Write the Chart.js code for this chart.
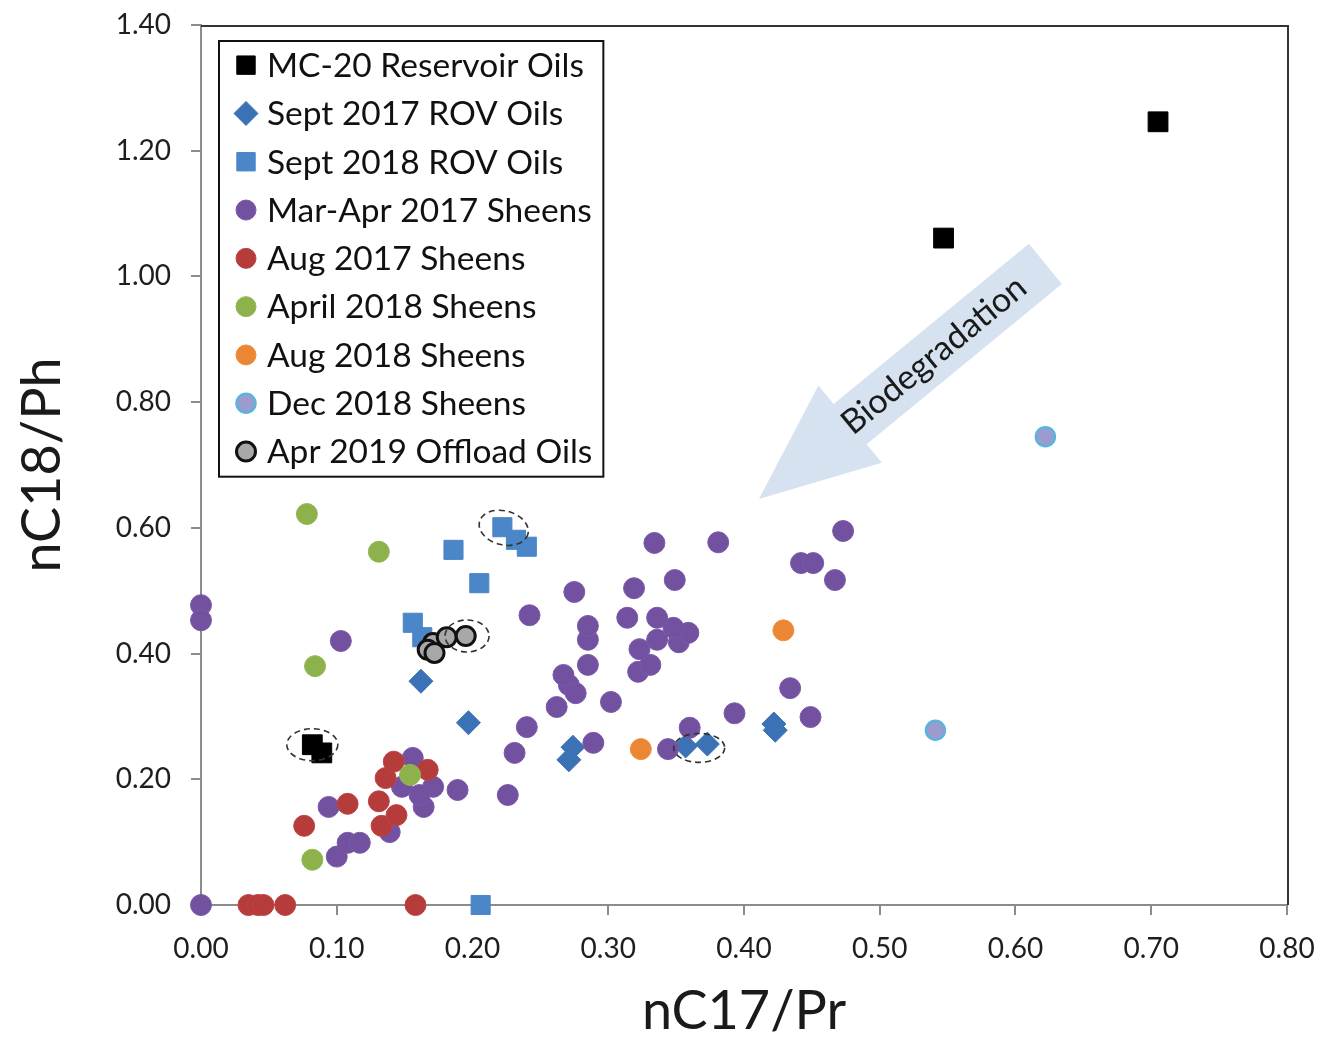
<!DOCTYPE html>
<html>
<head>
<meta charset="utf-8">
<script src="https://cdn.jsdelivr.net/npm/chart.js@4.4.1/dist/chart.umd.min.js"></script>
<style>
  html, body { margin: 0; padding: 0; background: #fff; }
</style>
</head>
<body>
<canvas id="ratioChart" width="1319" height="1042"></canvas>
<script>
// [nC17/Pr, nC18/Ph] pairs
const reservoirOils = [[0.705, 1.246], [0.547, 1.061], [0.082, 0.255], [0.089, 0.242]];
const rov2017 = [[0.162, 0.356], [0.197, 0.290], [0.274, 0.251], [0.271, 0.231],
  [0.357, 0.253], [0.373, 0.256], [0.422, 0.288], [0.423, 0.278]];
const rov2018 = [[0.222, 0.601], [0.232, 0.581], [0.240, 0.570], [0.186, 0.565],
  [0.205, 0.512], [0.156, 0.449], [0.163, 0.426], [0.206, 0.000]];
const sheensMarApr2017 = [[0.000, 0.477], [0.000, 0.453], [0.103, 0.420], [0.000, 0.000],
  [0.094, 0.156], [0.100, 0.077], [0.108, 0.099], [0.117, 0.099], [0.139, 0.116],
  [0.156, 0.234], [0.148, 0.188], [0.164, 0.156], [0.171, 0.188], [0.161, 0.175],
  [0.189, 0.183], [0.226, 0.175], [0.231, 0.242], [0.240, 0.283], [0.289, 0.258],
  [0.344, 0.248], [0.360, 0.282], [0.393, 0.305], [0.434, 0.345], [0.449, 0.299],
  [0.262, 0.315], [0.271, 0.350], [0.276, 0.337], [0.267, 0.366], [0.285, 0.382],
  [0.302, 0.323], [0.322, 0.371], [0.331, 0.382], [0.323, 0.407], [0.336, 0.422],
  [0.352, 0.418], [0.359, 0.433], [0.348, 0.441], [0.336, 0.457], [0.314, 0.457],
  [0.285, 0.422], [0.285, 0.444], [0.242, 0.461], [0.275, 0.498], [0.319, 0.504],
  [0.349, 0.517], [0.334, 0.576], [0.381, 0.577], [0.473, 0.595], [0.442, 0.544],
  [0.451, 0.544], [0.467, 0.517]];
const sheensAug2017 = [[0.076, 0.126], [0.108, 0.161], [0.131, 0.165], [0.133, 0.126],
  [0.144, 0.143], [0.136, 0.202], [0.142, 0.228], [0.167, 0.215], [0.035, 0.000],
  [0.042, 0.000], [0.046, 0.000], [0.062, 0.000], [0.158, 0.000]];
const sheensApr2018 = [[0.078, 0.622], [0.131, 0.562], [0.084, 0.380], [0.082, 0.072], [0.154, 0.207]];
const sheensAug2018 = [[0.324, 0.248], [0.429, 0.437]];
const sheensDec2018 = [[0.622, 0.745], [0.541, 0.278]];
const offloadOils = [[0.171, 0.417], [0.167, 0.406], [0.172, 0.401], [0.181, 0.426], [0.195, 0.428]];

const seriesNames = ['MC-20 Reservoir Oils', 'Sept 2017 ROV Oils', 'Sept 2018 ROV Oils',
  'Mar-Apr 2017 Sheens', 'Aug 2017 Sheens', 'April 2018 Sheens', 'Aug 2018 Sheens',
  'Dec 2018 Sheens', 'Apr 2019 Offload Oils'];
const xTickValues = [0, 0.1, 0.2, 0.3, 0.4, 0.5, 0.6, 0.7, 0.8];
const yTickValues = [0, 0.2, 0.4, 0.6, 0.8, 1.0, 1.2, 1.4];

const FONT = 'Lato';
const toPoints = arr => arr.map(p => ({ x: p[0], y: p[1] }));

function series(i, data, style) {
  return Object.assign({
    label: seriesNames[i],
    data: toPoints(data),
    order: 20 - i,           // later series drawn on top, like Excel
    clip: false,
    borderWidth: 1
  }, style);
}

const datasets = [
  series(0, reservoirOils, { pointStyle: 'rect', pointRadius: 14, backgroundColor: '#000', borderColor: '#000', legendRadius: 13 }),
  series(1, rov2017, { pointStyle: 'rectRot', pointRadius: 12, backgroundColor: '#3b72b5', borderColor: '#3b72b5', legendRadius: 12 }),
  series(2, rov2018, { pointStyle: 'rect', pointRadius: 13.5, backgroundColor: '#4a86c8', borderColor: '#4a86c8', legendRadius: 13 }),
  series(3, sheensMarApr2017, { pointStyle: 'circle', pointRadius: 10.5, backgroundColor: '#7252a0', borderColor: '#7a5aa8', legendRadius: 10 }),
  series(4, sheensAug2017, { pointStyle: 'circle', pointRadius: 10.5, backgroundColor: '#b63b3b', borderColor: '#bd4444', legendRadius: 10 }),
  series(5, sheensApr2018, { pointStyle: 'circle', pointRadius: 10.5, backgroundColor: '#8db24b', borderColor: '#93b755', legendRadius: 10 }),
  series(6, sheensAug2018, { pointStyle: 'circle', pointRadius: 10.5, backgroundColor: '#ea8634', borderColor: '#ee8f40', legendRadius: 10 }),
  series(7, sheensDec2018, { pointStyle: 'circle', pointRadius: 9.5, backgroundColor: '#9c9bcf', borderColor: '#5cb3dc', borderWidth: 2.5, legendRadius: 9.5 }),
  series(8, offloadOils, { pointStyle: 'circle', pointRadius: 9.5, backgroundColor: '#a8a8a8', borderColor: '#111', borderWidth: 3, legendRadius: 9.5 })
];

// arrow, dashed rings, frame and boxed legend
const decorations = {
  id: 'decorations',
  beforeDatasetsDraw(chart, args, opts) {
    const { ctx, scales: { x, y } } = chart;
    const a = opts.arrow;
    const tip = { x: x.getPixelForValue(a.tip[0]), y: y.getPixelForValue(a.tip[1]) };
    const tail = { x: x.getPixelForValue(a.tail[0]), y: y.getPixelForValue(a.tail[1]) };
    const len = Math.hypot(tail.x - tip.x, tail.y - tip.y);
    const u = { x: (tail.x - tip.x) / len, y: (tail.y - tip.y) / len };
    const n = { x: -u.y, y: u.x };
    const base = { x: tip.x + u.x * a.headLength, y: tip.y + u.y * a.headLength };
    const P = (p, k) => [p.x + n.x * k, p.y + n.y * k];
    const pts = [P(tail, a.shaft), P(base, a.shaft), P(base, a.head), [tip.x, tip.y],
      P(base, -a.head), P(base, -a.shaft), P(tail, -a.shaft)];
    ctx.save();
    ctx.beginPath();
    pts.forEach((p, i) => i ? ctx.lineTo(p[0], p[1]) : ctx.moveTo(p[0], p[1]));
    ctx.closePath();
    ctx.fillStyle = a.color;
    ctx.fill();
    const t = a.textAt;
    const cx = base.x + (tail.x - base.x) * t, cy = base.y + (tail.y - base.y) * t;
    ctx.translate(cx, cy);
    ctx.rotate(Math.atan2(u.y, u.x));
    ctx.font = a.fontSize + 'px ' + FONT;
    ctx.fillStyle = '#1a1a1a';
    ctx.textAlign = 'center';
    ctx.textBaseline = 'middle';
    ctx.fillText(a.text, 0, 0);
    ctx.restore();
  },
  afterDatasetsDraw(chart, args, opts) {
    const { ctx, scales: { x, y } } = chart;
    ctx.save();
    ctx.setLineDash([6, 4]);
    ctx.lineWidth = 1.6;
    ctx.strokeStyle = '#333';
    opts.rings.forEach(r => {
      ctx.beginPath();
      ctx.ellipse(x.getPixelForValue(r.at[0]), y.getPixelForValue(r.at[1]), r.rx, r.ry, r.rot || 0, 0, Math.PI * 2);
      ctx.stroke();
    });
    ctx.restore();
  },
  afterDraw(chart, args, opts) {
    const { ctx, chartArea: ca } = chart;
    ctx.save();
    // top and right frame
    ctx.strokeStyle = '#333';
    ctx.lineWidth = 2;
    ctx.beginPath();
    ctx.moveTo(ca.left, ca.top + 1);
    ctx.lineTo(ca.right + 1, ca.top + 1);
    ctx.lineTo(ca.right + 1, ca.bottom);
    ctx.stroke();

    // legend
    const lg = opts.legend;
    const x0 = ca.left + lg.offsetX, y0 = ca.top + lg.offsetY;
    ctx.font = lg.fontSize + 'px ' + FONT;
    const ds = chart.data.datasets;
    const maxW = Math.max(...ds.map(d => ctx.measureText(d.label).width));
    const w = lg.textX + maxW + 11;
    const h = lg.rowHeight * ds.length + 1;
    ctx.fillStyle = '#fff';
    ctx.fillRect(x0, y0, w, h);
    ctx.strokeStyle = '#111';
    ctx.lineWidth = 2;
    ctx.strokeRect(x0, y0, w, h);
    ds.forEach((d, i) => {
      const cy = y0 + lg.rowHeight * (i + 0.5);
      ctx.fillStyle = d.backgroundColor;
      ctx.strokeStyle = d.borderColor;
      ctx.lineWidth = d.borderWidth;
      Chart.helpers.drawPoint(ctx, { pointStyle: d.pointStyle, radius: d.legendRadius, rotation: 0, borderWidth: d.borderWidth }, x0 + lg.markerX, cy);
      ctx.fillStyle = '#111';
      ctx.textAlign = 'left';
      ctx.textBaseline = 'middle';
      ctx.fillText(d.label, x0 + lg.textX, cy + 1);
    });
    ctx.restore();
  }
};

const axisGrid = { drawOnChartArea: false, drawTicks: true, tickLength: 10, color: '#8c8c8c', lineWidth: 2 };
const axisBorder = { display: true, color: '#8c8c8c', width: 2 };

new Chart(document.getElementById('ratioChart').getContext('2d'), {
  type: 'scatter',
  data: { datasets },
  options: {
    responsive: false,
    animation: false,
    layout: { padding: { top: 25, right: 32, left: 0, bottom: 0 } },
    scales: {
      x: {
        type: 'linear', min: 0, max: 0.8,
        afterBuildTicks: s => { s.ticks = xTickValues.map(v => ({ value: v })); },
        afterFit: s => { s.height = 137; s.paddingLeft = 0; s.paddingRight = 0; },
        ticks: { callback: v => v.toFixed(2), font: { family: FONT, size: 28 }, color: '#1e1e1e', padding: 17, maxRotation: 0 },
        grid: axisGrid,
        border: axisBorder,
        title: { display: true, text: 'nC17/Pr', font: { family: FONT, size: 54, lineHeight: 1 }, color: '#1a1a1a', padding: { top: 0, bottom: 3 } }
      },
      y: {
        type: 'linear', min: 0, max: 1.4,
        afterBuildTicks: s => { s.ticks = yTickValues.map(v => ({ value: v })); },
        afterFit: s => { s.width = 201; s.paddingTop = 0; s.paddingBottom = 0; },
        ticks: { callback: v => v.toFixed(2), font: { family: FONT, size: 28 }, color: '#1e1e1e', padding: 20 },
        grid: axisGrid,
        border: axisBorder,
        title: { display: true, text: 'nC18/Ph', font: { family: FONT, size: 54, lineHeight: 1 }, color: '#1a1a1a', padding: { top: 16, bottom: 0 } }
      }
    },
    plugins: {
      legend: { display: false },
      tooltip: { enabled: true },
      decorations: {
        arrow: { tip: [0.411, 0.646], tail: [0.622, 1.020], shaft: 26, head: 50, headLength: 118,
          color: '#d6e2f0', text: 'Biodegradation', fontSize: 34, textAt: 0.43 },
        rings: [
          { at: [0.082, 0.255], rx: 25.5, ry: 16 },
          { at: [0.196, 0.428], rx: 22, ry: 16 },
          { at: [0.223, 0.600], rx: 25, ry: 17, rot: 0.25 },
          { at: [0.367, 0.250], rx: 25.5, ry: 14.5 }
        ],
        legend: { offsetX: 18, offsetY: 16, rowHeight: 48.3, markerX: 27, textX: 48, fontSize: 33.5 }
      }
    }
  },
  plugins: [decorations]
});
</script>
</body>
</html>
